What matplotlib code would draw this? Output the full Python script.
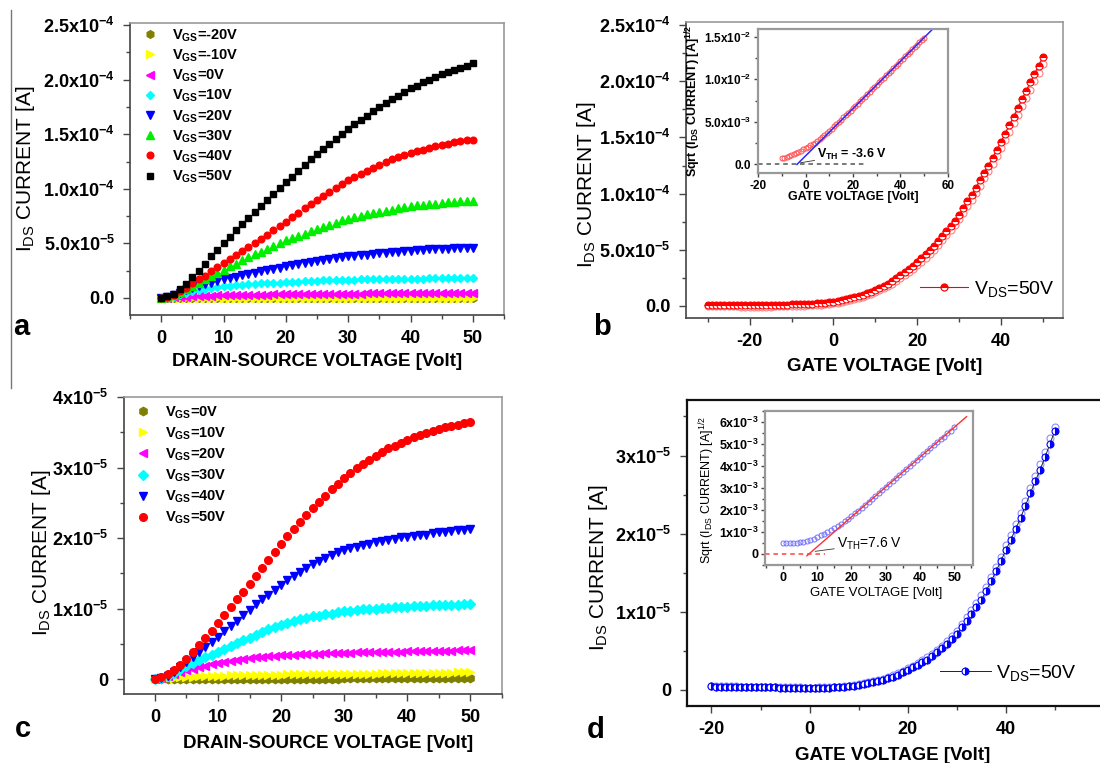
import numpy as np
import matplotlib
matplotlib.use("Agg")
import matplotlib.pyplot as plt
from matplotlib.lines import Line2D
from matplotlib.ticker import FixedLocator, MultipleLocator
from matplotlib.legend_handler import HandlerTuple

plt.rcParams['font.family'] = ['Liberation Sans', 'DejaVu Sans']
plt.rcParams['mathtext.default'] = 'regular'
plt.rcParams['axes.unicode_minus'] = False

# ---------------- output curves, device 1 (I_DS in units of 1e-5 A) ----------
vds = np.arange(0, 51)
ids_a_m20 = [0.0, 0.0, 0.0, -0.01, -0.01, -0.01, -0.01, -0.01, -0.01, -0.01,
             -0.01, -0.01, -0.01, -0.01, -0.01, -0.01, -0.01, -0.01, -0.01, -0.01,
             -0.01, -0.01, -0.01, -0.01, -0.01, -0.01, -0.01, -0.01, -0.01, -0.01,
             -0.01, -0.01, -0.01, -0.01, -0.01, -0.01, -0.01, -0.01, -0.01, -0.01,
             -0.01, -0.01, -0.01, -0.01, -0.01, -0.01, -0.01, -0.01, -0.01, -0.01, -0.01]
ids_a_m10 = [0.0, 0.0, 0.0, 0.0, 0.01, 0.01, 0.01, 0.01, 0.01, 0.01,
             0.01, 0.01, 0.01, 0.01, 0.01, 0.01, 0.01, 0.01, 0.01, 0.01,
             0.01, 0.01, 0.01, 0.01, 0.01, 0.01, 0.01, 0.01, 0.01, 0.01,
             0.01, 0.01, 0.01, 0.01, 0.01, 0.01, 0.01, 0.01, 0.01, 0.01,
             0.01, 0.01, 0.01, 0.01, 0.01, 0.01, 0.01, 0.01, 0.01, 0.01, 0.01]
ids_a_0 = [0.0, 0.03, 0.06, 0.09, 0.12, 0.15, 0.17, 0.19, 0.21, 0.23,
           0.24, 0.25, 0.26, 0.27, 0.28, 0.29, 0.30, 0.31, 0.32, 0.33,
           0.34, 0.345, 0.35, 0.355, 0.36, 0.365, 0.37, 0.38, 0.385, 0.39,
           0.40, 0.403, 0.406, 0.41, 0.413, 0.416, 0.42, 0.423, 0.426, 0.43,
           0.433, 0.436, 0.44, 0.443, 0.446, 0.449, 0.452, 0.454, 0.456, 0.458, 0.46]
ids_a_10 = [0.0, 0.07, 0.2, 0.33, 0.47, 0.6, 0.7, 0.8, 0.89, 0.98,
            1.06, 1.12, 1.17, 1.22, 1.26, 1.3, 1.33, 1.36, 1.39, 1.41,
            1.43, 1.46, 1.49, 1.52, 1.55, 1.57, 1.6, 1.62, 1.64, 1.66,
            1.68, 1.69, 1.7, 1.71, 1.72, 1.73, 1.74, 1.75, 1.76, 1.76,
            1.77, 1.78, 1.78, 1.79, 1.79, 1.8, 1.81, 1.81, 1.82, 1.82, 1.83]
ids_a_20 = [0.0, 0.08, 0.25, 0.45, 0.7, 0.9, 1.08, 1.25, 1.4, 1.55,
            1.7, 1.83, 1.96, 2.08, 2.2, 2.32, 2.44, 2.56, 2.68, 2.79,
            2.9, 3.0, 3.1, 3.2, 3.3, 3.4, 3.48, 3.56, 3.64, 3.72,
            3.8, 3.86, 3.92, 3.98, 4.04, 4.1, 4.15, 4.2, 4.25, 4.3,
            4.34, 4.38, 4.41, 4.44, 4.47, 4.5, 4.52, 4.54, 4.56, 4.58, 4.6]
ids_a_30 = [0.0, 0.08, 0.25, 0.5, 0.8, 1.1, 1.4, 1.7, 2.0, 2.3,
            2.6, 2.9, 3.15, 3.45, 3.75, 4.0, 4.25, 4.5, 4.8, 5.05,
            5.3, 5.5, 5.7, 5.9, 6.1, 6.3, 6.5, 6.7, 6.9, 7.1,
            7.25, 7.4, 7.55, 7.65, 7.8, 7.9, 8.0, 8.1, 8.2, 8.3,
            8.4, 8.5, 8.55, 8.6, 8.65, 8.7, 8.75, 8.8, 8.85, 8.9, 8.9]
ids_a_40 = [0.0, 0.1, 0.3, 0.6, 0.95, 1.35, 1.7, 2.05, 2.45, 2.8,
            3.2, 3.55, 3.9, 4.3, 4.65, 5.0, 5.4, 5.8, 6.2, 6.6,
            7.0, 7.4, 7.8, 8.2, 8.6, 9.0, 9.35, 9.7, 10.1, 10.45,
            10.8, 11.1, 11.4, 11.65, 11.95, 12.2, 12.45, 12.7, 12.9, 13.1,
            13.3, 13.45, 13.6, 13.75, 13.9, 14.05, 14.15, 14.25, 14.35, 14.45, 14.5]
ids_a_50 = [0.0, 0.15, 0.4, 0.8, 1.3, 1.9, 2.5, 3.15, 3.8, 4.4,
            5.0, 5.6, 6.2, 6.75, 7.3, 7.9, 8.45, 9.0, 9.55, 10.1,
            10.6, 11.1, 11.65, 12.15, 12.7, 13.2, 13.65, 14.1, 14.6, 15.05,
            15.5, 15.9, 16.3, 16.7, 17.1, 17.5, 17.85, 18.2, 18.55, 18.9,
            19.2, 19.45, 19.75, 20.0, 20.25, 20.5, 20.7, 20.9, 21.1, 21.3, 21.5]
labels_a = ["-20V", "-10V", "0V", "10V", "20V", "30V", "40V", "50V"]

# ---------------- output curves, device 2 (I_DS in units of 1e-5 A) ----------
ids_c_0 = [0.0, 0.0, 0.0, 0.005, 0.005, 0.005, 0.005, 0.01, 0.01, 0.01,
           0.01, 0.01, 0.01, 0.01, 0.01, 0.01, 0.01, 0.01, 0.01, 0.01,
           0.01, 0.01, 0.01, 0.01, 0.01, 0.01, 0.01, 0.01, 0.01, 0.01,
           0.012, 0.012, 0.012, 0.012, 0.012, 0.012, 0.012, 0.012, 0.012, 0.012,
           0.014, 0.014, 0.014, 0.014, 0.014, 0.015, 0.015, 0.015, 0.015, 0.015, 0.015]
ids_c_10 = [0.0, 0.01, 0.015, 0.02, 0.03, 0.035, 0.038, 0.041, 0.044, 0.047,
            0.05, 0.052, 0.053, 0.055, 0.056, 0.058, 0.06, 0.061, 0.063, 0.064,
            0.066, 0.067, 0.068, 0.069, 0.07, 0.071, 0.072, 0.073, 0.074, 0.074,
            0.075, 0.076, 0.077, 0.078, 0.079, 0.08, 0.081, 0.082, 0.083, 0.084,
            0.085, 0.086, 0.087, 0.088, 0.09, 0.091, 0.093, 0.094, 0.096, 0.098, 0.1]
ids_c_20 = [0.0, 0.02, 0.04, 0.07, 0.1, 0.13, 0.15, 0.17, 0.19, 0.21,
            0.23, 0.245, 0.26, 0.275, 0.29, 0.30, 0.31, 0.32, 0.33, 0.335,
            0.34, 0.345, 0.35, 0.355, 0.358, 0.361, 0.364, 0.367, 0.37, 0.373,
            0.376, 0.378, 0.38, 0.382, 0.384, 0.386, 0.388, 0.39, 0.391, 0.392,
            0.393, 0.394, 0.395, 0.397, 0.399, 0.401, 0.403, 0.405, 0.407, 0.409, 0.41]
ids_c_30 = [0.0, 0.02, 0.05, 0.09, 0.14, 0.19, 0.23, 0.27, 0.31, 0.35,
            0.39, 0.43, 0.47, 0.51, 0.55, 0.59, 0.63, 0.67, 0.71, 0.74,
            0.77, 0.8, 0.82, 0.85, 0.87, 0.89, 0.9, 0.92, 0.93, 0.95,
            0.96, 0.97, 0.98, 0.99, 0.995, 1.0, 1.005, 1.01, 1.02, 1.025,
            1.03, 1.035, 1.04, 1.04, 1.045, 1.05, 1.05, 1.055, 1.055, 1.06, 1.06]
ids_c_40 = [0.0, 0.02, 0.05, 0.1, 0.17, 0.25, 0.32, 0.39, 0.46, 0.53,
            0.6, 0.68, 0.76, 0.83, 0.91, 0.98, 1.06, 1.13, 1.2, 1.27,
            1.34, 1.4, 1.46, 1.52, 1.58, 1.63, 1.68, 1.72, 1.76, 1.8,
            1.83, 1.86, 1.88, 1.9, 1.92, 1.94, 1.96, 1.98, 1.99, 2.01,
            2.02, 2.03, 2.04, 2.05, 2.07, 2.08, 2.09, 2.1, 2.11, 2.12, 2.13]
ids_c_50 = [0.0, 0.03, 0.07, 0.13, 0.2, 0.29, 0.39, 0.49, 0.59, 0.69,
            0.8, 0.91, 1.02, 1.13, 1.24, 1.35, 1.46, 1.58, 1.69, 1.81,
            1.92, 2.03, 2.13, 2.23, 2.33, 2.42, 2.51, 2.6, 2.69, 2.77,
            2.85, 2.92, 2.99, 3.05, 3.11, 3.17, 3.22, 3.27, 3.31, 3.35,
            3.39, 3.43, 3.46, 3.49, 3.52, 3.55, 3.57, 3.59, 3.61, 3.63, 3.65]
labels_c = ["0V", "10V", "20V", "30V", "40V", "50V"]

# ---------------- transfer curve, device 1 (V_DS = 50 V, units of 1e-5 A) ----
vg_b = np.arange(-30, 51)
ids_b_fwd = [0.12, 0.12, 0.12, 0.11, 0.11, 0.11, 0.11, 0.11, 0.10, 0.10,
             0.10, 0.10, 0.10, 0.10, 0.10, 0.10, 0.11, 0.11, 0.12, 0.13,
             0.14, 0.15, 0.16, 0.18, 0.20, 0.22, 0.25, 0.28, 0.31, 0.35,
             0.39, 0.45, 0.52, 0.60, 0.69, 0.78, 0.89, 1.01, 1.14, 1.28, 1.42,
             1.60, 1.80, 2.00, 2.22, 2.46, 2.72, 3.00, 3.30, 3.60, 3.90,
             4.25, 4.60, 4.97, 5.35, 5.75, 6.20, 6.65, 7.10, 7.60, 8.10,
             8.70, 9.30, 9.90, 10.50, 11.20, 11.85, 12.50, 13.20, 13.90, 14.60,
             15.35, 16.10, 16.85, 17.60, 18.40, 19.15, 19.90, 20.65, 21.40, 22.20]
ids_b_rev = [-0.03, -0.03, -0.03, -0.04, -0.04, -0.04, -0.04, -0.04, -0.05, -0.05,
             -0.05, -0.05, -0.05, -0.05, -0.05, -0.05, -0.04, -0.04, -0.03, -0.02,
             -0.01, 0.0, 0.01, 0.03, 0.05, 0.07, 0.10, 0.13, 0.16, 0.20,
             0.24, 0.29, 0.36, 0.43, 0.52, 0.61, 0.71, 0.83, 0.95, 1.09, 1.23,
             1.40, 1.59, 1.79, 2.00, 2.23, 2.48, 2.75, 3.04, 3.33, 3.62,
             3.95, 4.29, 4.65, 5.02, 5.41, 5.84, 6.28, 6.72, 7.21, 7.70,
             8.28, 8.87, 9.45, 10.04, 10.72, 11.36, 12.00, 12.68, 13.36, 14.05,
             14.78, 15.52, 16.26, 16.99, 17.77, 18.51, 19.25, 19.98, 20.72, 21.50]

# sqrt(I_DS) for the threshold extraction (units of 1e-3 A^1/2)
vg_b_sqrt = np.arange(-10, 51)
sqrt_b = [0.70, 0.78, 0.87, 0.97, 1.08, 1.20, 1.33, 1.47, 1.61, 1.76,
          1.91, 2.07, 2.23, 2.40, 2.57, 2.75, 2.98, 3.20, 3.45, 3.70,
          3.95, 4.21, 4.47, 4.73, 4.99, 5.25, 5.52, 5.79, 6.06, 6.33,
          6.60, 6.87, 7.15, 7.42, 7.70, 7.97, 8.25, 8.52, 8.80, 9.07,
          9.35, 9.62, 9.90, 10.17, 10.45, 10.73, 11.00, 11.28, 11.56, 11.84,
          12.12, 12.40, 12.68, 12.95, 13.23, 13.51, 13.79, 14.06, 14.34, 14.62, 14.90]
vth_b = -3.6
slope_b = 0.278      # 1e-3 A^1/2 per volt
fit_b_end = 53.6

# ---------------- transfer curve, device 2 (V_DS = 50 V, units of 1e-5 A) ----
vg_d = np.arange(-20, 51)
ids_d_fwd = [0.045, 0.044, 0.043, 0.042, 0.041, 0.040, 0.039, 0.038, 0.037, 0.036,
             0.035, 0.034, 0.033, 0.032, 0.031, 0.030, 0.029, 0.028, 0.027, 0.026,
             0.025, 0.026, 0.027, 0.029, 0.031, 0.034, 0.038, 0.043, 0.049, 0.056,
             0.064, 0.074, 0.085, 0.098, 0.113, 0.13, 0.15, 0.172, 0.196, 0.226,
             0.26, 0.29, 0.32, 0.355, 0.39, 0.43, 0.48, 0.535, 0.59, 0.65,
             0.72, 0.80, 0.88, 0.97, 1.06, 1.15, 1.27, 1.39, 1.52, 1.65,
             1.79, 1.92, 2.06, 2.20, 2.36, 2.52, 2.67, 2.82, 2.98, 3.15, 3.32]
ids_d_rev = [0.05, 0.049, 0.048, 0.047, 0.046, 0.045, 0.044, 0.043, 0.042, 0.041,
             0.04, 0.039, 0.038, 0.037, 0.036, 0.035, 0.034, 0.033, 0.032, 0.031,
             0.03, 0.031, 0.032, 0.034, 0.037, 0.04, 0.044, 0.05, 0.056, 0.064,
             0.073, 0.084, 0.096, 0.11, 0.126, 0.144, 0.164, 0.187, 0.212, 0.243,
             0.28, 0.31, 0.345, 0.38, 0.42, 0.46, 0.51, 0.565, 0.625, 0.69,
             0.76, 0.84, 0.93, 1.02, 1.11, 1.21, 1.32, 1.44, 1.57, 1.70,
             1.85, 1.98, 2.12, 2.27, 2.42, 2.58, 2.74, 2.89, 3.05, 3.22, 3.37]

vg_d_sqrt = np.arange(0, 51)
sqrt_d = [0.49, 0.49, 0.50, 0.50, 0.51, 0.53, 0.56, 0.60, 0.64, 0.70,
          0.77, 0.84, 0.92, 1.00, 1.09, 1.18, 1.28, 1.38, 1.49, 1.60,
          1.72, 1.84, 1.97, 2.10, 2.23, 2.36, 2.50, 2.63, 2.77, 2.90,
          3.04, 3.17, 3.31, 3.44, 3.58, 3.71, 3.85, 3.98, 4.12, 4.25,
          4.39, 4.52, 4.66, 4.79, 4.93, 5.06, 5.20, 5.33, 5.47, 5.60, 5.74]
vth_d = 7.6
slope_d = 0.1355     # 1e-3 A^1/2 per volt
fit_d_range = [7.0, 53.6]

# tick labels
yt_ab = ["0.0", "5.0x10$^{-5}$", "1.0x10$^{-4}$", "1.5x10$^{-4}$",
         "2.0x10$^{-4}$", "2.5x10$^{-4}$"]
yt_c = ["0", "1x10$^{-5}$", "2x10$^{-5}$", "3x10$^{-5}$", "4x10$^{-5}$"]
yt_d = ["0", "1x10$^{-5}$", "2x10$^{-5}$", "3x10$^{-5}$"]
yt_ib = ["0.0", "5.0x10$^{-3}$", "1.0x10$^{-2}$", "1.5x10$^{-2}$"]
yt_id = ["0", "1x10$^{-3}$", "2x10$^{-3}$", "3x10$^{-3}$", "4x10$^{-3}$",
         "5x10$^{-3}$", "6x10$^{-3}$"]

YLABEL = "I$_{DS}$ CURRENT [A]"
SQRT_LABEL = "Sqrt (I$_{DS}$ CURRENT) [A]$^{1/2}$"


def style_axes(ax, spine_dark="#444444", spine_light="#999999", size=13, pad=6):
    for side in ("left", "bottom"):
        ax.spines[side].set_color(spine_dark)
        ax.spines[side].set_linewidth(1.2)
    for side in ("top", "right"):
        ax.spines[side].set_color(spine_light)
        ax.spines[side].set_linewidth(1.2)
    ax.tick_params(which="both", direction="out", top=False, right=False,
                   color="#444444", width=1.0, labelsize=size, pad=pad)
    ax.tick_params(which="major", length=5)
    ax.tick_params(which="minor", length=3)
    for lab in ax.get_xticklabels() + ax.get_yticklabels():
        lab.set_fontweight("bold")


def set_yticks(ax, values, labels, minor):
    ax.yaxis.set_major_locator(FixedLocator(values))
    ax.set_yticklabels(labels, fontweight="bold")
    ax.yaxis.set_minor_locator(MultipleLocator(minor))


fig = plt.figure(figsize=(11, 7.63), dpi=100)

# ---------------- panel a ----------------
ax_a = fig.add_axes([0.1182, 0.5872, 0.34, 0.3827])
series_a = [
    (ids_a_m20, "h", "#808000", 5.5),
    (ids_a_m10, ">", "#ffff00", 5.5),
    (ids_a_0, "<", "#ff00ff", 5.5),
    (ids_a_10, "D", "#00ffff", 4.5),
    (ids_a_20, "v", "#0000ff", 5.5),
    (ids_a_30, "^", "#00ee00", 5.5),
    (ids_a_40, "o", "#ff0000", 4.8),
    (ids_a_50, "s", "#000000", 4.3),
]
for (vals, mk, col, ms), lab in zip(series_a, labels_a):
    ax_a.plot(vds, np.array(vals) * 1e-5, ls="none", marker=mk, ms=ms,
              color=col, mec=col, label="V$_{GS}$=" + lab)
ax_a.set_xlim(-5, 55)
ax_a.set_ylim(-1.56e-5, 2.52e-4)
ax_a.xaxis.set_major_locator(MultipleLocator(10))
ax_a.xaxis.set_minor_locator(MultipleLocator(5))
set_yticks(ax_a, [0, 5e-5, 1e-4, 1.5e-4, 2e-4, 2.5e-4], yt_ab, 2.5e-5)
style_axes(ax_a)
ax_a.set_xlabel("DRAIN-SOURCE VOLTAGE [Volt]", fontsize=13.5, fontweight="bold")
ax_a.xaxis.set_label_coords(0.5, -0.13)
ax_a.set_ylabel(YLABEL, fontsize=15)
ax_a.yaxis.set_label_coords(-0.249, 0.5)
ax_a.legend(loc="upper left", bbox_to_anchor=(0.035, 0.985), frameon=False,
            prop={"size": 10.5, "weight": "bold"}, handlelength=1.0,
            handletextpad=0.95, labelspacing=0.26, borderpad=0, borderaxespad=0)

# ---------------- panel c ----------------
ax_c = fig.add_axes([0.1127, 0.0904, 0.3436, 0.3893])
series_c = [
    (ids_c_0, "h", "#808000", 6),
    (ids_c_10, ">", "#ffff00", 6),
    (ids_c_20, "<", "#ff00ff", 6),
    (ids_c_30, "D", "#00ffff", 5),
    (ids_c_40, "v", "#0000ff", 6),
    (ids_c_50, "o", "#ff0000", 5.5),
]
for (vals, mk, col, ms), lab in zip(series_c, labels_c):
    ax_c.plot(vds, np.array(vals) * 1e-5, ls="none", marker=mk, ms=ms,
              color=col, mec=col, label="V$_{GS}$=" + lab)
ax_c.set_xlim(-4.9, 55)
ax_c.set_ylim(-2.1e-6, 4.0e-5)
ax_c.xaxis.set_major_locator(MultipleLocator(10))
ax_c.xaxis.set_minor_locator(MultipleLocator(5))
set_yticks(ax_c, [0, 1e-5, 2e-5, 3e-5, 4e-5], yt_c, 0.5e-5)
style_axes(ax_c)
ax_c.set_xlabel("DRAIN-SOURCE VOLTAGE [Volt]", fontsize=13.5, fontweight="bold")
ax_c.xaxis.set_label_coords(0.54, -0.138)
ax_c.set_ylabel(YLABEL, fontsize=15)
ax_c.yaxis.set_label_coords(-0.188, 0.475)
ax_c.legend(loc="upper left", bbox_to_anchor=(0.032, 0.975), frameon=False,
            prop={"size": 10.5, "weight": "bold"}, handlelength=1.0,
            handletextpad=0.95, labelspacing=0.32, borderpad=0, borderaxespad=0)

# ---------------- panel b ----------------
ax_b = fig.add_axes([0.6236, 0.5832, 0.3427, 0.3879])
rev_b, = ax_b.plot(vg_b, np.array(ids_b_rev) * 1e-5, ls="none", marker="o",
                   ms=5, mfc="white", mec="#ff8080", mew=0.8)
fwd_b, = ax_b.plot(vg_b, np.array(ids_b_fwd) * 1e-5, "-", color="#ff0000",
                   lw=0.8, marker="o", ms=5, fillstyle="top", mfc="#ff0000",
                   mfcalt="white", mec="#ff0000", mew=0.8)
ax_b.set_xlim(-35.2, 54.8)
ax_b.set_ylim(-1.07e-5, 2.527e-4)
ax_b.xaxis.set_major_locator(MultipleLocator(20))
ax_b.xaxis.set_minor_locator(MultipleLocator(10))
set_yticks(ax_b, [0, 5e-5, 1e-4, 1.5e-4, 2e-4, 2.5e-4], yt_ab, 2.5e-5)
style_axes(ax_b)
ax_b.set_xlabel("GATE VOLTAGE [Volt]", fontsize=13.5, fontweight="bold")
ax_b.xaxis.set_label_coords(0.528, -0.135)
ax_b.set_ylabel(YLABEL, fontsize=15)
ax_b.yaxis.set_label_coords(-0.233, 0.45)
ax_b.legend([(rev_b, fwd_b)], ["V$_{DS}$=50V"],
            handler_map={tuple: HandlerTuple(ndivide=1)},
            loc="center left", bbox_to_anchor=(0.62, 0.098), frameon=False,
            prop={"size": 14}, handlelength=2.5, handletextpad=0.3,
            borderpad=0, borderaxespad=0)

# inset: sqrt(I_DS) vs V_GS with linear fit
in_b = fig.add_axes([0.6891, 0.7733, 0.1727, 0.1887])
in_b.plot(vg_b_sqrt, np.array(sqrt_b) * 1e-3, ls="none", marker="o", ms=3.6,
          mfc="none", mec="#ff5050", mew=0.7)
fit_bx = np.array([vth_b, fit_b_end])
in_b.plot(fit_bx, slope_b * (fit_bx - vth_b) * 1e-3, color="#2a2aff", lw=1.1)
in_b.plot([-20, 26], [0, 0], ls=(0, (3, 2.5)), color="#555555", lw=1.1)
in_b.annotate("V$_{TH}$ = -3.6 V", xy=(vth_b + 1.5, 0.2e-3),
              xytext=(5, 1.2e-3), fontsize=9, fontweight="bold", va="center",
              arrowprops=dict(arrowstyle="-", color="#333333", lw=0.6,
                              shrinkA=0, shrinkB=0))
in_b.set_xlim(-20, 60)
in_b.set_ylim(-1.0e-3, 1.59e-2)
in_b.xaxis.set_major_locator(MultipleLocator(20))
in_b.xaxis.set_minor_locator(MultipleLocator(10))
set_yticks(in_b, [0, 5e-3, 1e-2, 1.5e-2], yt_ib, 2.5e-3)
style_axes(in_b, spine_dark="#999999", spine_light="#999999", size=8.5, pad=2)
for sp in in_b.spines.values():
    sp.set_linewidth(1.6)
in_b.tick_params(which="major", length=3)
in_b.tick_params(which="minor", length=2)
in_b.set_xlabel("GATE VOLTAGE [Volt]", fontsize=9, fontweight="bold")
in_b.xaxis.set_label_coords(0.5, -0.125)
in_b.set_ylabel(SQRT_LABEL, fontsize=9, fontweight="bold")
in_b.yaxis.set_label_coords(-0.29, 0.5)

# ---------------- panel d ----------------
ax_d = fig.add_axes([0.6245, 0.0747, 0.3791, 0.4010])
rev_d, = ax_d.plot(vg_d, np.array(ids_d_rev) * 1e-5, ls="none", marker="o",
                   ms=5, mfc="white", mec="#8c8cff", mew=0.8)
fwd_d, = ax_d.plot(vg_d, np.array(ids_d_fwd) * 1e-5, "-", color="#222222",
                   lw=0.7, marker="o", ms=5, fillstyle="right", mfc="#0000ff",
                   mfcalt="white", mec="#0000ff", mew=0.8)
ax_d.set_xlim(-25, 60)
ax_d.set_ylim(-2.05e-6, 3.71e-5)
ax_d.xaxis.set_major_locator(FixedLocator([-20, 0, 20, 40]))
ax_d.xaxis.set_minor_locator(FixedLocator([-10, 10, 30, 50]))
set_yticks(ax_d, [0, 1e-5, 2e-5, 3e-5], yt_d, 0.5e-5)
style_axes(ax_d, spine_dark="#111111", spine_light="#111111")
for sp in ax_d.spines.values():
    sp.set_linewidth(1.6)
ax_d.set_xlabel("GATE VOLTAGE [Volt]", fontsize=13.5, fontweight="bold")
ax_d.xaxis.set_label_coords(0.494, -0.134)
ax_d.set_ylabel(YLABEL, fontsize=15)
ax_d.yaxis.set_label_coords(-0.185, 0.451)
ax_d.legend([fwd_d], ["V$_{DS}$=50V"], loc="center left",
            bbox_to_anchor=(0.607, 0.108), frameon=False, prop={"size": 14},
            handlelength=2.6, handletextpad=0.3, borderpad=0, borderaxespad=0)

in_d = fig.add_axes([0.6955, 0.2595, 0.1888, 0.2022])
in_d.plot(vg_d_sqrt, np.array(sqrt_d) * 1e-3, ls="none", marker="o", ms=3.6,
          mfc="none", mec="#7070ff", mew=0.7)
fit_dx = np.array(fit_d_range)
in_d.plot(fit_dx, slope_d * (fit_dx - vth_d) * 1e-3, color="#ff3030", lw=1.0)
in_d.plot([-5.2, 12.3], [0, 0], ls=(0, (3, 2.5)), color="#ff4040", lw=1.1)
in_d.annotate("V$_{TH}$=7.6 V", xy=(vth_d + 1.8, 0.12e-3),
              xytext=(15.8, 0.45e-3), fontsize=10, va="center",
              arrowprops=dict(arrowstyle="-", color="#333333", lw=0.6,
                              shrinkA=0, shrinkB=0))
in_d.set_xlim(-5.2, 55.4)
in_d.set_ylim(-0.5e-3, 6.5e-3)
in_d.xaxis.set_major_locator(MultipleLocator(10))
in_d.xaxis.set_minor_locator(MultipleLocator(5))
set_yticks(in_d, [0, 1e-3, 2e-3, 3e-3, 4e-3, 5e-3, 6e-3], yt_id, 0.5e-3)
style_axes(in_d, spine_dark="#999999", spine_light="#999999", size=9, pad=2)
for sp in in_d.spines.values():
    sp.set_linewidth(1.6)
in_d.tick_params(which="major", length=3)
in_d.tick_params(which="minor", length=2)
in_d.set_xlabel("GATE VOLTAGE [Volt]", fontsize=9.5)
in_d.xaxis.set_label_coords(0.533, -0.143)
in_d.set_ylabel(SQRT_LABEL, fontsize=9)
in_d.yaxis.set_label_coords(-0.233, 0.486)

# panel letters
for letter, px, py in [("a", 13, 335), ("b", 593, 335), ("c", 15, 737), ("d", 587, 738)]:
    fig.text(px / 1100, 1 - py / 763, letter, fontsize=21, fontweight="bold",
             va="baseline", ha="left")

# thin page border line on the left
fig.add_artist(Line2D([11 / 1100, 11 / 1100], [1 - 10 / 763, 1 - 388 / 763],
                      transform=fig.transFigure, color="#777777", lw=1.0))

fig.savefig("out.png", dpi=100)
